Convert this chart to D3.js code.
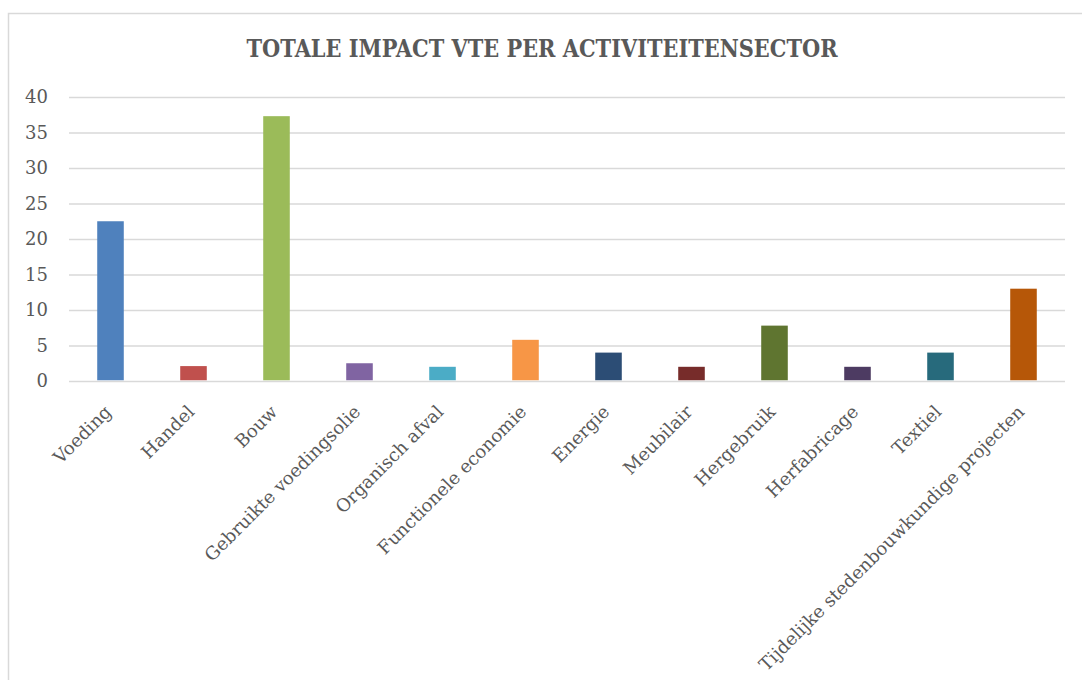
<!DOCTYPE html>
<html>
  <head>
    <meta charset="utf-8">
    <title>Totale impact VTE</title>
    <script type="text/javascript" src="https://cdn.jsdelivr.net/npm/d3@7/dist/d3.min.js"></script>
<style type="text/css">
body { margin: 0; background: #fff; }
svg text { font-family: "DejaVu Serif", serif; fill: #595959; }
.grid line { stroke: #d9d9d9; stroke-width: 1.5px; }
.grid .domain { display: none; }
.x .domain { display: none; }
</style>
  </head>
  <body>
    <div id="result"></div>
  </body>
    <script>

// data
var categories = ["Voeding", "Handel", "Bouw", "Gebruikte voedingsolie", "Organisch afval",
                  "Functionele economie", "Energie", "Meubilair", "Hergebruik", "Herfabricage",
                  "Textiel", "Tijdelijke stedenbouwkundige projecten"];
var values = [22.5, 2.1, 37.3, 2.5, 2.0, 5.8, 4.0, 2.0, 7.8, 2.0, 4.0, 13.0];
var yTicks = [0, 5, 10, 15, 20, 25, 30, 35, 40];
var colors = ["#4F81BD", "#C0504D", "#9BBB59", "#8064A2", "#4BACC6", "#F79646",
              "#2C4D75", "#772C2A", "#5F7530", "#4D3B62", "#276A7C", "#B65708"];
var title = "TOTALE IMPACT VTE PER ACTIVITEITENSECTOR";

var W = 1082, H = 680;
var plot = {left: 69, right: 1065, top: 97, bottom: 381};

var svg = d3.select("#result").append("svg")
            .attr("width", W)
            .attr("height", H);

// chart area border
svg.append("rect")
   .attr("x", 8.5).attr("y", 13.5)
   .attr("width", 1200).attr("height", 800)
   .attr("fill", "#fff")
   .attr("stroke", "#d9d9d9")
   .attr("stroke-width", 1.5);

svg.append("text")
   .attr("x", 542).attr("y", 57)
   .attr("text-anchor", "middle")
   .attr("font-size", 24)
   .attr("font-weight", "bold")
   .attr("textLength", 591)
   .attr("lengthAdjust", "spacingAndGlyphs")
   .text(title);

var x = d3.scaleBand()
          .domain(categories)
          .range([plot.left, plot.right])
          .paddingInner(0.68)
          .paddingOuter(0.34);

var y = d3.scaleLinear()
          .domain([0, 40])
          .range([plot.bottom, plot.top]);

// gridlines + y labels
var gy = svg.append("g")
   .attr("class", "grid")
   .attr("transform", "translate(" + plot.left + ",0)")
   .call(d3.axisLeft(y).tickValues(yTicks).tickSize(-(plot.right - plot.left)).tickPadding(21));
gy.selectAll("text").attr("font-size", 18).style("font-family", "DejaVu Serif");

// bars
svg.selectAll("rect.bar")
   .data(values)
   .enter()
   .append("rect")
   .attr("class", "bar")
   .attr("x", function(d, i){ return x(categories[i]); })
   .attr("y", function(d){ return y(d); })
   .attr("width", x.bandwidth())
   .attr("height", function(d){ return y(0) - y(d) - 0.75; })
   .attr("fill", function(d, i){ return colors[i]; });

// category labels
var gx = svg.append("g")
   .attr("class", "x")
   .attr("transform", "translate(0," + plot.bottom + ")")
   .call(d3.axisBottom(x).tickSize(0));
gx.selectAll("text")
  .attr("font-size", 18)
  .style("font-family", "DejaVu Serif")
  .attr("text-anchor", "end")
  .attr("y", 0).attr("dy", 0)
  .attr("transform", "translate(2,32) rotate(-45)");

    </script>
</html>
